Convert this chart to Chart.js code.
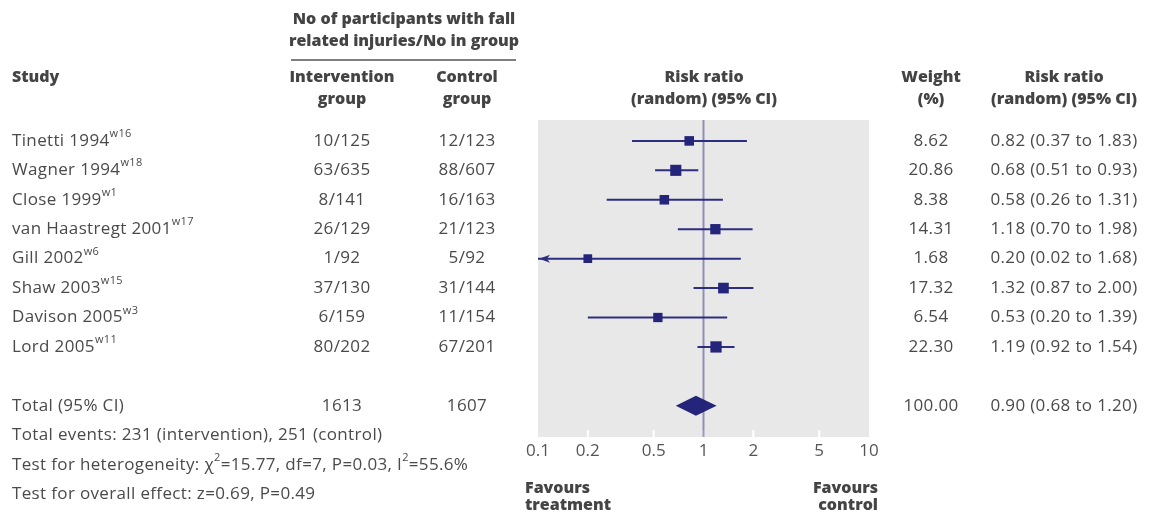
<!DOCTYPE html>
<html>
<head>
<meta charset="utf-8">
<script src="https://cdn.jsdelivr.net/npm/chart.js@4/dist/chart.umd.min.js"></script>
<style>
  html, body { margin: 0; padding: 0; background: #fff; }
  canvas { display: block; }
</style>
</head>
<body>
<canvas id="forest" width="1155" height="513"></canvas>
<script>
// data
const studies = ['Tinetti 1994', 'Wagner 1994', 'Close 1999', 'van Haastregt 2001', 'Gill 2002', 'Shaw 2003', 'Davison 2005', 'Lord 2005'];
const refs = ['w16', 'w18', 'w1', 'w17', 'w6', 'w15', 'w3', 'w11'];
const interventionGroup = ['10/125', '63/635', '8/141', '26/129', '1/92', '37/130', '6/159', '80/202'];
const controlGroup = ['12/123', '88/607', '16/163', '21/123', '5/92', '31/144', '11/154', '67/201'];
const weights = [8.62, 20.86, 8.38, 14.31, 1.68, 17.32, 6.54, 22.30];
const riskRatio = [0.82, 0.68, 0.58, 1.18, 0.20, 1.32, 0.53, 1.19];
const ciLower = [0.37, 0.51, 0.26, 0.70, 0.02, 0.87, 0.20, 0.92];
const ciUpper = [1.83, 0.93, 1.31, 1.98, 1.68, 2.00, 1.39, 1.54];

const totalIntervention = '1613';
const totalControl = '1607';
const totalWeight = '100.00';
const totalRatio = 0.90;
const totalLower = 0.68;
const totalUpper = 1.20;

const xTicks = [0.1, 0.2, 0.5, 1, 2, 5, 10];
const TOTAL_ROW = 9;

const FONT = '"Open Sans", "Noto Sans", sans-serif';
const TEXT = '#4a4a4a';
const HEAD = '#444444';
const NAVY = '#24247a';
const BODY_FONT = '17px ' + FONT;
const BOLD_FONT = '800 16px ' + FONT;
const BODY_SPACING = '0.35px';
const BOLD_SPACING = '0px';

function fmt(v) { return v.toFixed(2); }

// draw a line of text made of normal and superscript pieces
function rich(ctx, segs, x, y, align) {
    const small = '11px ' + FONT;
    ctx.letterSpacing = BODY_SPACING;
    let w = 0;
    segs.forEach(s => { ctx.font = s.sup ? small : BODY_FONT; w += ctx.measureText(s.t).width; });
    let cx = align === 'center' ? x - w / 2 : (align === 'right' ? x - w : x);
    ctx.textAlign = 'left';
    segs.forEach(s => {
        ctx.font = s.sup ? small : BODY_FONT;
        ctx.fillText(s.t, cx, s.sup ? y - 7 : y);
        cx += ctx.measureText(s.t).width;
    });
}

function txt(ctx, t, x, y, align, isBold) {
    ctx.font = isBold ? BOLD_FONT : BODY_FONT;
    ctx.letterSpacing = isBold ? BOLD_SPACING : BODY_SPACING;
    ctx.fillStyle = isBold ? HEAD : TEXT;
    ctx.textAlign = align;
    ctx.fillText(t, x, y);
}

const forestPlugin = {
    id: 'forest',
    beforeDatasetsDraw(chart) {
        const { ctx, chartArea: a, scales: { x, y } } = chart;
        ctx.save();
        ctx.fillStyle = '#e8e8e8';
        ctx.fillRect(a.left, a.top, a.right - a.left, a.bottom - a.top);

        // little white ticks along the bottom
        ctx.strokeStyle = '#ffffff';
        ctx.lineWidth = 2;
        xTicks.slice(1, -1).forEach(v => {
            const px = x.getPixelForValue(v);
            ctx.beginPath();
            ctx.moveTo(px, a.bottom);
            ctx.lineTo(px, a.bottom - 7);
            ctx.stroke();
        });

        // confidence intervals
        ctx.strokeStyle = '#2e2e80';
        ctx.fillStyle = '#2e2e80';
        ctx.lineWidth = 2;
        riskRatio.forEach((v, i) => {
            const py = y.getPixelForValue(i);
            const x0 = x.getPixelForValue(Math.max(ciLower[i], x.min));
            const x1 = x.getPixelForValue(Math.min(ciUpper[i], x.max));
            ctx.beginPath();
            ctx.moveTo(x0, py);
            ctx.lineTo(x1, py);
            ctx.stroke();
            if (ciLower[i] < x.min) {
                ctx.beginPath();
                ctx.moveTo(x0 + 1, py);
                ctx.lineTo(x0 + 12, py - 4);
                ctx.lineTo(x0 + 9, py);
                ctx.lineTo(x0 + 12, py + 4);
                ctx.closePath();
                ctx.fill();
            }
            if (ciUpper[i] > x.max) {
                ctx.beginPath();
                ctx.moveTo(x1 - 1, py);
                ctx.lineTo(x1 - 12, py - 4);
                ctx.lineTo(x1 - 9, py);
                ctx.lineTo(x1 - 12, py + 4);
                ctx.closePath();
                ctx.fill();
            }
        });

        // pooled estimate
        const ty = y.getPixelForValue(TOTAL_ROW);
        ctx.fillStyle = NAVY;
        ctx.beginPath();
        ctx.moveTo(x.getPixelForValue(totalLower), ty);
        ctx.lineTo(x.getPixelForValue(totalRatio), ty - 10);
        ctx.lineTo(x.getPixelForValue(totalUpper), ty);
        ctx.lineTo(x.getPixelForValue(totalRatio), ty + 10);
        ctx.closePath();
        ctx.fill();
        ctx.restore();
    },
    afterDatasetsDraw(chart) {
        const { ctx, chartArea: a, scales: { x } } = chart;
        const px = x.getPixelForValue(1);
        ctx.save();
        ctx.strokeStyle = 'rgba(36, 36, 122, 0.45)';
        ctx.lineWidth = 2;
        ctx.beginPath();
        ctx.moveTo(px, a.top);
        ctx.lineTo(px, a.bottom);
        ctx.stroke();
        ctx.restore();
    },
    afterDraw(chart) {
        const { ctx, scales: { y } } = chart;
        ctx.save();
        ctx.textBaseline = 'middle';

        // headers
        txt(ctx, 'No of participants with fall', 404, 19, 'center', true);
        txt(ctx, 'related injuries/No in group', 404, 41, 'center', true);
        ctx.strokeStyle = '#555';
        ctx.lineWidth = 1.5;
        ctx.beginPath();
        ctx.moveTo(291, 60);
        ctx.lineTo(516, 60);
        ctx.stroke();
        txt(ctx, 'Study', 12, 77, 'left', true);
        txt(ctx, 'Intervention', 342, 77, 'center', true);
        txt(ctx, 'group', 342, 99, 'center', true);
        txt(ctx, 'Control', 467, 77, 'center', true);
        txt(ctx, 'group', 467, 99, 'center', true);
        txt(ctx, 'Risk ratio', 704, 77, 'center', true);
        txt(ctx, '(random) (95% CI)', 704, 99, 'center', true);
        txt(ctx, 'Weight', 931, 77, 'center', true);
        txt(ctx, '(%)', 931, 99, 'center', true);
        txt(ctx, 'Risk ratio', 1064, 77, 'center', true);
        txt(ctx, '(random) (95% CI)', 1064, 99, 'center', true);

        // study rows
        studies.forEach((s, i) => {
            const py = y.getPixelForValue(i);
            ctx.fillStyle = TEXT;
            rich(ctx, [{ t: s }, { t: refs[i], sup: true }], 12, py, 'left');
            txt(ctx, interventionGroup[i], 342, py, 'center', false);
            txt(ctx, controlGroup[i], 467, py, 'center', false);
            txt(ctx, fmt(weights[i]), 931, py, 'center', false);
            txt(ctx, fmt(riskRatio[i]) + ' (' + fmt(ciLower[i]) + ' to ' + fmt(ciUpper[i]) + ')', 1064, py, 'center', false);
        });

        // total row
        const ty = y.getPixelForValue(TOTAL_ROW);
        txt(ctx, 'Total (95% CI)', 12, ty, 'left', false);
        txt(ctx, totalIntervention, 342, ty, 'center', false);
        txt(ctx, totalControl, 467, ty, 'center', false);
        txt(ctx, totalWeight, 931, ty, 'center', false);
        txt(ctx, fmt(totalRatio) + ' (' + fmt(totalLower) + ' to ' + fmt(totalUpper) + ')', 1064, ty, 'center', false);

        txt(ctx, 'Total events: 231 (intervention), 251 (control)', 12, y.getPixelForValue(TOTAL_ROW + 1), 'left', false);
        rich(ctx, [
            { t: 'Test for heterogeneity: \u03c7' }, { t: '2', sup: true },
            { t: '=15.77, df=7, P=0.03, I' }, { t: '2', sup: true }, { t: '=55.6%' }
        ], 12, y.getPixelForValue(TOTAL_ROW + 2), 'left');
        txt(ctx, 'Test for overall effect: z=0.69, P=0.49', 12, y.getPixelForValue(TOTAL_ROW + 3), 'left', false);

        // favours labels
        txt(ctx, 'Favours', 525, 488, 'left', true);
        txt(ctx, 'treatment', 525, 505, 'left', true);
        txt(ctx, 'Favours', 878, 488, 'right', true);
        txt(ctx, 'control', 878, 505, 'right', true);
        ctx.restore();
    }
};

const ctx = document.getElementById('forest').getContext('2d');
new Chart(ctx, {
    type: 'scatter',
    data: {
        datasets: [{
            data: riskRatio.map((v, i) => ({ x: v, y: i })),
            pointStyle: 'rect',
            pointRadius: weights.map(w => (8.5 + w / 8) / Math.SQRT2),
            pointBackgroundColor: NAVY,
            backgroundColor: NAVY,
            pointBorderWidth: 0,
            borderWidth: 0
        }]
    },
    options: {
        responsive: false,
        animation: false,
        events: [],
        layout: { padding: { left: 538, right: 286, top: 120, bottom: 46 } },
        plugins: { legend: { display: false }, tooltip: { enabled: false } },
        scales: {
            x: {
                type: 'logarithmic',
                min: 0.1,
                max: 10,
                afterBuildTicks: s => { s.ticks = xTicks.map(v => ({ value: v })); },
                afterFit: s => { s.height = 30; },
                grid: { display: false, drawTicks: false },
                border: { display: false },
                ticks: {
                    color: '#555',
                    font: { family: FONT, size: 17 },
                    padding: 4,
                    autoSkip: false,
                    maxRotation: 0,
                    callback: v => String(v)
                }
            },
            y: {
                display: false,
                reverse: true,
                min: -0.71,
                max: 10.06
            }
        }
    },
    plugins: [forestPlugin]
});
</script>
</body>
</html>
